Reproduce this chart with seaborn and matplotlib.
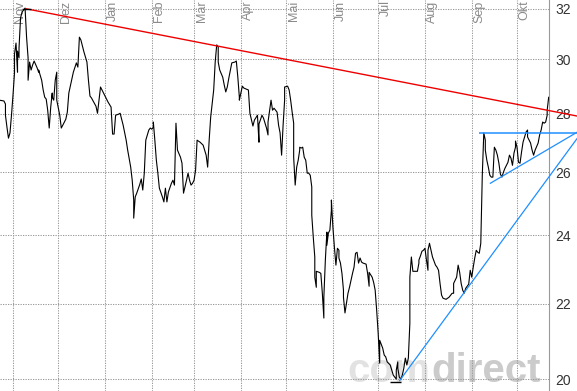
import pandas as pd
import matplotlib
matplotlib.use("Agg")
import matplotlib.pyplot as plt
import matplotlib.transforms as mtransforms
from matplotlib.ticker import NullLocator, FixedLocator, FixedFormatter
import seaborn as sns

# ---------------- data ----------------
dates = [
    "2010-10-23", "2010-10-26", "2010-10-27", "2010-10-27", "2010-10-28", "2010-10-29", "2010-10-30", "2010-10-31",
    "2010-11-01", "2010-11-02", "2010-11-02", "2010-11-03", "2010-11-04", "2010-11-04", "2010-11-05", "2010-11-05",
    "2010-11-06", "2010-11-07", "2010-11-08", "2010-11-09", "2010-11-10", "2010-11-11", "2010-11-11", "2010-11-12",
    "2010-11-13", "2010-11-14", "2010-11-15", "2010-11-17", "2010-11-18", "2010-11-18", "2010-11-20", "2010-11-21",
    "2010-11-22", "2010-11-23", "2010-11-24", "2010-11-25", "2010-11-26", "2010-11-27", "2010-11-27", "2010-11-28",
    "2010-11-29", "2010-11-30", "2010-11-30",
    "2010-12-02", "2010-12-03", "2010-12-04", "2010-12-06", "2010-12-07", "2010-12-08", "2010-12-10", "2010-12-11",
    "2010-12-13", "2010-12-14", "2010-12-15", "2010-12-16", "2010-12-18", "2010-12-20", "2010-12-21", "2010-12-22",
    "2010-12-23", "2010-12-26", "2010-12-27", "2010-12-29", "2010-12-31",
    "2011-01-03", "2011-01-05", "2011-01-06", "2011-01-07", "2011-01-08", "2011-01-10", "2011-01-11", "2011-01-13",
    "2011-01-15", "2011-01-16", "2011-01-18", "2011-01-19", "2011-01-20", "2011-01-20", "2011-01-21", "2011-01-22",
    "2011-01-24", "2011-01-25", "2011-01-26", "2011-01-27", "2011-01-28", "2011-01-30", "2011-01-31",
    "2011-02-01", "2011-02-02", "2011-02-02", "2011-02-03", "2011-02-04", "2011-02-05", "2011-02-06", "2011-02-08",
    "2011-02-09", "2011-02-10", "2011-02-11", "2011-02-12", "2011-02-14", "2011-02-15", "2011-02-16", "2011-02-17",
    "2011-02-17", "2011-02-18", "2011-02-20", "2011-02-21", "2011-02-22", "2011-02-24", "2011-02-25", "2011-02-26",
    "2011-02-27", "2011-02-28",
    "2011-03-01", "2011-03-02", "2011-03-03", "2011-03-05", "2011-03-07", "2011-03-09", "2011-03-10", "2011-03-11",
    "2011-03-12", "2011-03-13", "2011-03-14", "2011-03-15", "2011-03-16", "2011-03-17", "2011-03-17", "2011-03-18",
    "2011-03-20", "2011-03-21", "2011-03-22", "2011-03-23", "2011-03-24", "2011-03-26", "2011-03-28", "2011-03-29",
    "2011-03-30", "2011-03-31", "2011-03-31",
    "2011-04-02", "2011-04-03", "2011-04-06", "2011-04-07", "2011-04-09", "2011-04-10", "2011-04-12", "2011-04-13",
    "2011-04-13", "2011-04-15", "2011-04-16", "2011-04-17", "2011-04-18", "2011-04-19", "2011-04-19", "2011-04-21",
    "2011-04-22", "2011-04-23", "2011-04-24", "2011-04-25", "2011-04-26", "2011-04-27", "2011-04-28", "2011-04-29",
    "2011-04-30", "2011-04-30",
    "2011-05-02", "2011-05-03", "2011-05-04", "2011-05-05", "2011-05-06", "2011-05-06", "2011-05-07", "2011-05-08",
    "2011-05-09", "2011-05-10", "2011-05-10", "2011-05-11", "2011-05-12", "2011-05-13", "2011-05-14", "2011-05-15",
    "2011-05-16", "2011-05-17", "2011-05-18", "2011-05-18", "2011-05-19", "2011-05-20", "2011-05-20", "2011-05-21",
    "2011-05-21", "2011-05-23", "2011-05-24", "2011-05-25", "2011-05-26", "2011-05-26", "2011-05-27", "2011-05-28",
    "2011-05-28", "2011-05-29", "2011-05-30", "2011-05-31", "2011-05-31",
    "2011-06-01", "2011-06-02", "2011-06-03", "2011-06-04", "2011-06-05", "2011-06-05", "2011-06-06", "2011-06-07",
    "2011-06-08", "2011-06-08", "2011-06-09", "2011-06-10", "2011-06-11", "2011-06-12", "2011-06-13", "2011-06-14",
    "2011-06-15", "2011-06-16", "2011-06-17", "2011-06-18", "2011-06-19", "2011-06-20", "2011-06-21", "2011-06-23",
    "2011-06-24", "2011-06-25", "2011-06-25", "2011-06-27", "2011-06-28", "2011-06-29", "2011-06-30",
    "2011-07-01", "2011-07-02", "2011-07-02", "2011-07-04", "2011-07-05", "2011-07-06", "2011-07-07", "2011-07-09",
    "2011-07-10", "2011-07-11", "2011-07-13", "2011-07-13", "2011-07-14", "2011-07-14", "2011-07-15", "2011-07-16",
    "2011-07-17", "2011-07-18", "2011-07-19", "2011-07-20", "2011-07-21", "2011-07-22", "2011-07-22", "2011-07-23",
    "2011-07-24", "2011-07-27", "2011-07-28", "2011-07-28", "2011-07-29", "2011-07-30", "2011-07-31",
    "2011-08-01", "2011-08-02", "2011-08-03", "2011-08-03", "2011-08-04", "2011-08-05", "2011-08-06", "2011-08-08",
    "2011-08-09", "2011-08-10", "2011-08-11", "2011-08-12", "2011-08-13", "2011-08-15", "2011-08-17", "2011-08-19",
    "2011-08-20", "2011-08-20", "2011-08-22", "2011-08-23", "2011-08-24", "2011-08-25", "2011-08-26", "2011-08-27",
    "2011-08-28", "2011-08-29", "2011-08-30", "2011-08-31",
    "2011-09-01", "2011-09-02", "2011-09-03", "2011-09-04", "2011-09-05", "2011-09-06", "2011-09-07", "2011-09-08",
    "2011-09-09", "2011-09-10", "2011-09-10", "2011-09-11", "2011-09-12", "2011-09-13", "2011-09-14", "2011-09-15",
    "2011-09-16", "2011-09-17", "2011-09-18", "2011-09-19", "2011-09-20", "2011-09-21", "2011-09-22", "2011-09-23",
    "2011-09-25", "2011-09-26", "2011-09-27", "2011-09-28", "2011-09-29", "2011-09-30", "2011-09-30",
    "2011-10-01", "2011-10-02", "2011-10-03", "2011-10-04", "2011-10-05", "2011-10-07", "2011-10-08", "2011-10-08",
    "2011-10-10", "2011-10-11", "2011-10-12", "2011-10-13", "2011-10-15", "2011-10-16", "2011-10-17", "2011-10-18",
    "2011-10-19", "2011-10-20", "2011-10-21", "2011-10-21", "2011-10-22",
]
close = [
    28.49, 28.46, 28.35, 27.95, 27.53, 27.15, 27.33, 27.95,
    28.67, 29.49, 30.21, 30.63, 29.52, 30.32, 30.06, 30.44,
    31.62, 31.86, 31.94, 32.02, 30.86, 30.06, 29.22, 29.90,
    29.60, 29.79, 29.94, 29.68, 29.52, 29.60, 29.22, 28.86,
    28.60, 28.53, 28.13, 27.50, 28.24, 28.75, 28.60, 28.49,
    29.22, 29.52, 28.49,
    27.95, 27.50, 27.60, 27.81, 28.06, 28.75, 29.26, 29.52,
    29.87, 29.71, 30.86, 30.75, 30.29, 29.90, 29.22, 28.64,
    28.57, 28.27, 28.02, 28.97, 28.75,
    28.42, 28.24, 27.29, 27.29, 27.95, 27.99, 28.02, 27.60,
    27.08, 26.74, 26.17, 25.74, 25.10, 24.53, 25.20, 25.32,
    25.60, 25.78, 25.42, 25.97, 27.08, 27.43, 27.50,
    27.46, 27.53, 27.71, 27.08, 26.40, 25.97, 25.48, 25.20,
    25.04, 25.48, 25.04, 25.36, 25.64, 25.74, 25.58, 27.53,
    27.67, 26.74, 26.50, 26.30, 25.32, 25.74, 25.97, 25.74,
    25.58, 25.64,
    25.74, 26.07, 27.08, 27.01, 26.91, 26.57, 26.17, 27.08,
    27.88, 28.38, 28.86, 29.90, 30.56, 30.48, 29.90, 29.60,
    29.33, 29.04, 28.79, 28.97, 29.29, 29.87, 29.90, 29.94,
    29.33, 28.60, 28.49,
    29.00, 28.93, 28.86, 28.02, 27.57, 27.78, 27.95, 27.01,
    27.64, 27.95, 27.85, 27.67, 27.50, 27.26, 27.71, 28.49,
    28.13, 28.20, 28.13, 28.06, 27.60, 27.33, 26.57, 27.60,
    28.49, 28.97,
    29.00, 28.86, 28.49, 28.06, 27.67, 26.50, 25.58, 26.17,
    26.40, 26.74, 26.84, 26.81, 26.84, 26.50, 26.40, 25.97,
    25.97, 25.90, 25.52, 24.62, 23.94, 23.35, 22.76, 22.47,
    22.93, 22.90, 22.87, 22.30, 21.61, 22.19, 23.26, 24.10,
    23.70, 24.07, 24.16, 24.78, 25.10,
    24.25, 23.64, 23.11, 23.61, 23.55, 23.32, 23.17, 22.87,
    22.39, 22.19, 21.75, 22.02, 22.30, 22.47, 22.67, 22.87,
    23.05, 23.46, 23.49, 23.17, 23.32, 23.20, 23.17, 23.14,
    22.87, 22.50, 22.90, 22.76, 22.61, 22.39, 21.83,
    21.20, 20.41, 21.01, 20.80, 20.62, 20.57, 20.44, 20.36,
    20.23, 20.10, 20.00, 20.23, 20.44, 20.28, 20.05, 20.00,
    20.10, 20.28, 20.54, 20.36, 20.54, 21.47, 22.76, 23.35,
    22.93, 22.93, 23.17, 23.26, 23.38, 23.52, 23.55,
    23.61, 23.26, 22.96, 23.55, 23.76, 23.55, 23.35, 23.11,
    23.05, 22.96, 22.58, 22.25, 22.16, 22.13, 22.19, 22.30,
    22.30, 22.58, 22.76, 23.11, 22.90, 22.58, 22.39, 22.30,
    22.44, 22.50, 22.56, 22.96,
    22.76, 23.05, 23.32, 23.55, 23.49, 23.46, 23.76, 25.90,
    27.33, 27.08, 26.74, 26.40, 26.17, 25.90, 25.84, 25.84,
    26.84, 26.74, 26.57, 26.30, 25.94, 25.84, 26.00, 26.13,
    26.33, 26.57, 26.47, 26.23, 26.64, 26.84, 27.05,
    26.84, 26.33, 26.30, 26.67, 27.01, 27.36, 27.43, 27.19,
    26.98, 26.74, 26.57, 26.74, 26.98, 27.26, 27.43, 27.71,
    27.67, 27.71, 27.95, 28.13, 28.60,
]

month_starts = ["2010-11-01", "2010-12-01", "2011-01-01", "2011-02-01", "2011-03-01", "2011-04-01",
                "2011-05-01", "2011-06-01", "2011-07-01", "2011-08-01", "2011-09-01", "2011-10-01"]
month_labels = ["Nov", "Dez", "Jan", "Feb", "Mär", "Apr", "Mai", "Jun", "Jul", "Aug", "Sep", "Okt"]
y_ticks = [20, 22, 24, 26, 28, 30, 32]
y_tick_labels = ["20", "22", "24", "26", "28", "30", "32"]

# trend lines (drawn by the chart author)
resistance_dates = ["2010-11-09", "2011-11-10"]
resistance_vals = [32.0, 27.92]
wedge_top_dates = ["2011-09-06", "2011-11-10"]
wedge_top_vals = [27.34, 27.34]
wedge_low_dates = ["2011-09-13", "2011-11-10"]
wedge_low_vals = [25.63, 27.36]
support_dates = ["2011-07-15", "2011-11-10"]
support_vals = [19.95, 27.15]
high_mark_dates = ["2010-11-07", "2010-11-13"]
high_mark_vals = [32.0, 32.0]
low_mark_dates = ["2011-07-09", "2011-07-16"]
low_mark_vals = [19.93, 19.93]

# ---------------- plot ----------------
sns.set_style("white")
plt.rcParams["font.family"] = ["Liberation Sans", "DejaVu Sans"]

fig = plt.figure(figsize=(5.77, 3.91), dpi=100)
ax = fig.add_axes([0, 0, 549 / 577, 1])

df = pd.DataFrame({"date": pd.to_datetime(dates), "close": close})
sns.lineplot(data=df, x="date", y="close", sort=False, estimator=None,
             color="black", linewidth=0.8, ax=ax, zorder=3)

def seg(d, v, color, lw):
    ax.plot(pd.to_datetime(d), v, color=color, linewidth=lw, clip_on=False, zorder=4,
            solid_capstyle="butt")

seg(resistance_dates, resistance_vals, "#ee0000", 1.0)
seg(wedge_top_dates, wedge_top_vals, "#1e8fff", 1.1)
seg(wedge_low_dates, wedge_low_vals, "#1e8fff", 0.9)
seg(support_dates, support_vals, "#1e8fff", 0.9)
seg(high_mark_dates, high_mark_vals, "black", 1.0)
seg(low_mark_dates, low_mark_vals, "black", 1.0)

ax.set_yscale("log")
ax.set_ylim(19.70, 32.35)
ax.set_xlim(pd.Timestamp("2010-10-23 09:20"), pd.Timestamp("2011-10-22 05:00"))

ax.yaxis.set_major_locator(FixedLocator(y_ticks))
ax.yaxis.set_major_formatter(FixedFormatter(y_tick_labels))
ax.yaxis.set_minor_locator(NullLocator())
ax.yaxis.tick_right()
ax.tick_params(axis="y", length=0, pad=4.5, labelsize=10, labelcolor="#333333")

ax.set_xticks(pd.to_datetime(month_starts))
ax.set_xticklabels([])
ax.xaxis.set_minor_locator(NullLocator())
ax.tick_params(axis="x", length=0)

ax.grid(True, which="major", color="#9a9a9a", linestyle=(0, (1.2, 1.2)), linewidth=0.75, zorder=1)
ax.set_axisbelow(True)
ax.set_xlabel("")
ax.set_ylabel("")

for s in ["top", "left", "bottom"]:
    ax.spines[s].set_visible(False)
ax.spines["right"].set_color("#9a9a9a")
ax.spines["right"].set_linewidth(0.8)

# month labels, rotated, inside top of plot
trans = mtransforms.blended_transform_factory(ax.transData, ax.transAxes)
off = mtransforms.ScaledTranslation(1.5 / 100, -0.5 / 100, fig.dpi_scale_trans)
for d, lab in zip(pd.to_datetime(month_starts), month_labels):
    ax.text(d, 1.0, lab, rotation=90, ha="left", va="top", transform=trans + off,
            color="#8a8a8a", fontsize=9, clip_on=False, zorder=2)

# watermark
ax.text(347 / 577, 0.002, "com", transform=fig.transFigure, fontsize=29, fontweight="bold",
        color="#e2e2e2", ha="left", va="bottom", zorder=0.5)
ax.text(431 / 577, 0.002, "direct", transform=fig.transFigure, fontsize=29, fontweight="bold",
        color="#cbcbcb", ha="left", va="bottom", zorder=0.5)

fig.savefig("out.png", dpi=100)
